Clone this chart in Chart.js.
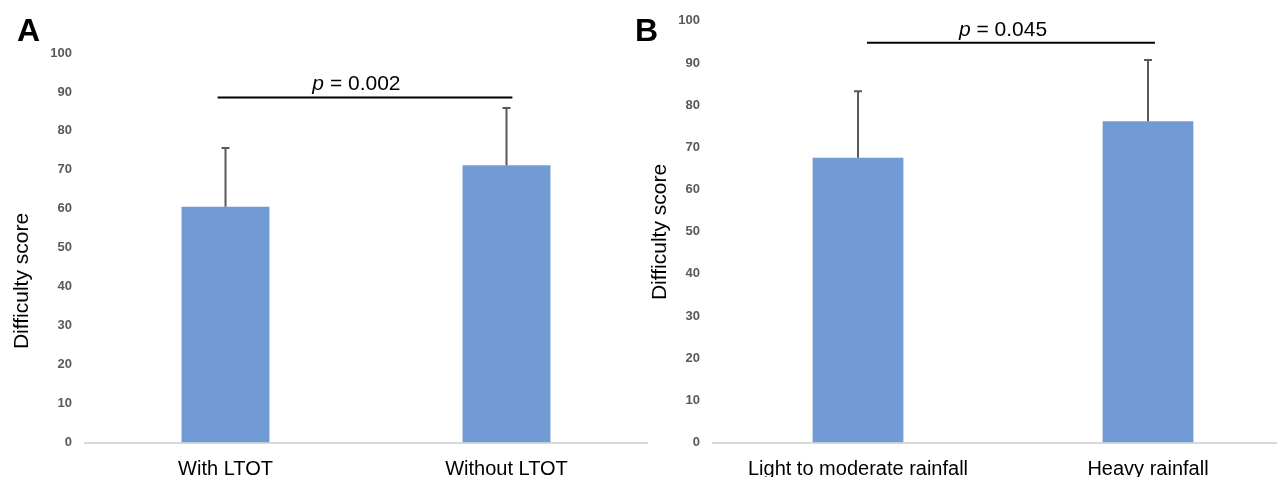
<!DOCTYPE html>
<html>
<head>
<meta charset="utf-8">
<script src="https://cdn.jsdelivr.net/npm/chart.js@4.4.0/dist/chart.umd.min.js"></script>
<style>
html, body { margin: 0; padding: 0; background: #fff; overflow: hidden; width: 1277px; height: 477px; }
canvas { position: absolute; top: 0; }
#chart-a { left: 0; }
#chart-b { left: 620px; }
</style>
</head>
<body>
<canvas id="chart-a" width="650" height="477"></canvas>
<canvas id="chart-b" width="680" height="477"></canvas>
<script>
// panel A: LTOT
const ltotLabels = ["With LTOT", "Without LTOT"];
const ltotMeans = [60.5, 71.2];
const ltotSD = [15.1, 14.7];
const ltotP = "0.002";
const ltotBracket = 88.6;

// panel B: rainfall
const rainLabels = ["Light to moderate rainfall", "Heavy rainfall"];
const rainMeans = [67.5, 76.2];
const rainSD = [15.8, 14.5];
const rainP = "0.045";
const rainBracket = 94.8;

const yTicks = [0, 10, 20, 30, 40, 50, 60, 70, 80, 90, 100];

const FONT = "'Liberation Sans', Arial, sans-serif";
const BAR_COLOR = "#729ad4";

// error bars (upper side only), read from dataset.sd
const errorBars = {
    id: "errorBars",
    afterDatasetsDraw(chart) {
        const ctx = chart.ctx;
        const y = chart.scales.y;
        const ds = chart.data.datasets[0];
        chart.getDatasetMeta(0).data.forEach((bar, i) => {
            const top = y.getPixelForValue(ds.data[i] + ds.sd[i]);
            ctx.save();
            ctx.strokeStyle = "#595959";
            ctx.lineWidth = 2;
            ctx.beginPath();
            ctx.moveTo(bar.x, bar.y);
            ctx.lineTo(bar.x, top);
            ctx.moveTo(bar.x - 4, top);
            ctx.lineTo(bar.x + 4, top);
            ctx.stroke();
            ctx.restore();
        });
    }
};

// significance line with p value
const bracket = {
    id: "bracket",
    afterDatasetsDraw(chart, args, opts) {
        const ctx = chart.ctx;
        const x = chart.scales.x, y = chart.scales.y;
        const ly = y.getPixelForValue(opts.value);
        ctx.save();
        ctx.strokeStyle = "#000";
        ctx.lineWidth = 2;
        ctx.beginPath();
        ctx.moveTo(x.getPixelForValue(opts.from), ly);
        ctx.lineTo(x.getPixelForValue(opts.to), ly);
        ctx.stroke();

        const italic = "italic 21px " + FONT;
        const normal = "21px " + FONT;
        const rest = " = " + opts.p;
        ctx.font = italic;
        const w1 = ctx.measureText("p").width;
        ctx.font = normal;
        const w2 = ctx.measureText(rest).width;
        let tx = x.getPixelForValue(opts.textAt) - (w1 + w2) / 2;
        ctx.fillStyle = "#000";
        ctx.textBaseline = "alphabetic";
        ctx.textAlign = "left";
        ctx.font = italic;
        ctx.fillText("p", tx, ly - 7);
        ctx.font = normal;
        ctx.fillText(rest, tx + w1, ly - 7);
        ctx.restore();
    }
};

// panel letter and rotated y title
const decor = {
    id: "decor",
    afterDraw(chart, args, opts) {
        const ctx = chart.ctx;
        ctx.save();
        ctx.fillStyle = "#000";
        ctx.font = "bold 32px " + FONT;
        ctx.textAlign = "left";
        ctx.textBaseline = "alphabetic";
        ctx.fillText(opts.letter, opts.letterX, 41);

        ctx.translate(opts.titleX, opts.titleY);
        ctx.rotate(-Math.PI / 2);
        ctx.font = "21px " + FONT;
        ctx.textAlign = "center";
        ctx.textBaseline = "middle";
        ctx.fillText("Difficulty score", 0, 0);
        ctx.restore();
    }
};

function makeChart(id, labels, means, sd, top, right, yWidth, extra) {
    return new Chart(document.getElementById(id).getContext("2d"), {
        type: "bar",
        data: {
            labels: labels,
            datasets: [{
                data: means,
                sd: sd,
                backgroundColor: BAR_COLOR,
                barPercentage: 1,
                categoryPercentage: 0.313
            }]
        },
        options: {
            responsive: false,
            animation: false,
            layout: { padding: { top: top, right: right, left: 0, bottom: 0 } },
            plugins: {
                legend: { display: false },
                tooltip: { enabled: false },
                bracket: extra.bracket,
                decor: extra.decor
            },
            scales: {
                x: {
                    grid: { display: false, drawTicks: false },
                    border: { display: true, color: "#d9d9d9", width: 2 },
                    ticks: { color: "#000", padding: 15, font: { family: FONT, size: 20 } },
                    afterFit: s => { s.height = 34.5; }
                },
                y: {
                    min: 0,
                    max: 100,
                    afterBuildTicks: s => { s.ticks = yTicks.map(v => ({ value: v })); },
                    grid: { display: false, drawTicks: false },
                    border: { display: false },
                    ticks: { color: "#595959", padding: 13, font: { family: FONT, size: 13, weight: "bold" } },
                    afterFit: s => { s.width = yWidth; }
                }
            }
        },
        plugins: [errorBars, bracket, decor]
    });
}

const chartA = makeChart("chart-a", ltotLabels, ltotMeans, ltotSD, 53, 3, 85, {
    bracket: { value: ltotBracket, from: -0.028, to: 1.021, textAt: 0.466, p: ltotP },
    decor: { letter: "A", letterX: 17, titleX: 22, titleY: 281 }
});

const chartB = makeChart("chart-b", rainLabels, rainMeans, rainSD, 18.5, 7, 93, {
    bracket: { value: rainBracket, from: 0.031, to: 1.024, textAt: 0.5, p: rainP },
    decor: { letter: "B", letterX: 15, titleX: 40, titleY: 232 }
});
</script>
</body>
</html>
